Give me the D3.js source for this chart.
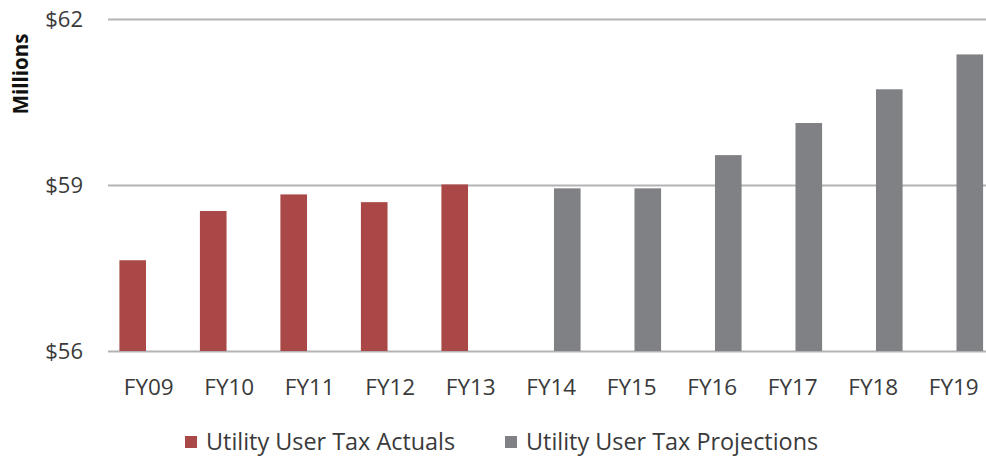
<!DOCTYPE html>
<html>
<head>
<meta charset="utf-8">
<script src="https://cdn.jsdelivr.net/npm/d3@7"></script>
<style>
  body { margin: 0; background: #fff; }
  svg text { font-family: "Open Sans", sans-serif; }
</style>
</head>
<body>
<div id="chart"></div>
<script>
// fiscal years and values (millions)
var years = ["FY09", "FY10", "FY11", "FY12", "FY13", "FY14", "FY15", "FY16", "FY17", "FY18", "FY19"];
var actuals = [57.64, 58.53, 58.83, 58.69, 59.01, null, null, null, null, null, null];
var projections = [null, null, null, null, null, 58.94, 58.94, 59.54, 60.12, 60.73, 61.36];
var seriesNames = ["Utility User Tax Actuals", "Utility User Tax Projections"];
var yTicks = [56, 59, 62];

var width = 986, height = 458;
var font = "'Open Sans', sans-serif";
var colors = { "Utility User Tax Actuals": "#a94846", "Utility User Tax Projections": "#808185" };

var svg = d3.select("#chart").append("svg")
    .attr("width", width)
    .attr("height", height);

var x0 = d3.scaleBand()
    .domain(years)
    .range([108.5, 994]);

var x1 = d3.scaleBand()
    .domain(seriesNames)
    .range([0, x0.bandwidth()])
    .paddingInner(0.17)
    .paddingOuter(0.34);

var y = d3.scaleLinear()
    .domain([56, 62])
    .range([351, 19]);

// y axis + gridlines
var yAxis = svg.append("g")
    .attr("transform", "translate(108,0)")
    .call(d3.axisLeft(y)
      .tickValues(yTicks)
      .tickSize(-(width - 100))
      .tickPadding(25)
      .tickFormat(function(d) { return "$" + d; }));

yAxis.attr("font-family", font);
yAxis.select(".domain").remove();
yAxis.selectAll(".tick line")
    .attr("stroke", "#b3b3b5")
    .attr("stroke-width", 2);
yAxis.selectAll(".tick text")
    .attr("fill", "#3a3a3a")
    .attr("font-size", 22);

// bars
var rows = years.map(function(yr, i) {
  return { year: yr, values: [
    { name: seriesNames[0], value: actuals[i] },
    { name: seriesNames[1], value: projections[i] }
  ]};
});

svg.append("g")
  .selectAll("g")
  .data(rows)
  .enter().append("g")
    .attr("transform", function(d) { return "translate(" + x0(d.year) + ",0)"; })
  .selectAll("rect")
  .data(function(d) { return d.values.filter(function(v) { return v.value != null; }); })
  .enter().append("rect")
    .attr("x", function(d) { return x1(d.name); })
    .attr("width", x1.bandwidth())
    .attr("y", function(d) { return y(d.value); })
    .attr("height", function(d) { return y(56) - y(d.value); })
    .attr("fill", function(d) { return colors[d.name]; });

// x axis labels
var xAxis = svg.append("g")
    .attr("transform", "translate(0,351)")
    .call(d3.axisBottom(x0).tickSize(0).tickPadding(28));
xAxis.attr("font-family", font);
xAxis.select(".domain").remove();
xAxis.selectAll(".tick text")
    .attr("fill", "#3a3a3a")
    .attr("font-size", 22.5);

// axis title
svg.append("text")
    .attr("transform", "translate(28,74) rotate(-90)")
    .attr("text-anchor", "middle")
    .attr("font-family", font)
    .attr("font-size", 20.5)
    .attr("font-weight", "bold")
    .attr("fill", "#111")
    .text("Millions");

// legend
var legendX = [185, 505];
var legend = svg.append("g")
  .selectAll("g")
  .data(seriesNames)
  .enter().append("g")
    .attr("transform", function(d, i) { return "translate(" + legendX[i] + ",436)"; });

legend.append("rect")
    .attr("width", 12)
    .attr("height", 12)
    .attr("fill", function(d) { return colors[d]; });

legend.append("text")
    .attr("x", 21)
    .attr("y", 14)
    .attr("font-family", font)
    .attr("font-size", 23.4)
    .attr("fill", "#3a3a3a")
    .text(function(d) { return d; });
</script>
</body>
</html>
